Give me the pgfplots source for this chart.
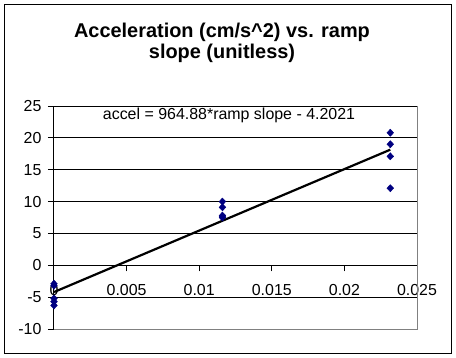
\documentclass[border=0pt]{standalone}
\usepackage{pgfplots}
\pgfplotsset{compat=1.18}
\usepackage{fontspec}
\setmainfont{Liberation Sans}
\definecolor{navy}{RGB}{0,0,128}
\definecolor{bordergray}{RGB}{128,128,128}
\begin{document}
\begin{tikzpicture}
\path[use as bounding box] (-54bp,-29bp) rectangle (402bp,329bp);
\draw[black, line width=1bp] (-49bp,-24bp) rectangle (397bp,324bp);
\begin{axis}[
  at={(0,0)}, anchor=south west,
  width=363bp, height=223bp, scale only axis,
  xmin=0, xmax=0.025, ymin=-10, ymax=25,
  axis x line=middle, axis y line=left,
  axis line style={-, black, line width=1bp},
  scaled x ticks=false, scaled y ticks=false,
  xtick={0,0.005,0.01,0.015,0.02,0.025},
  xticklabels={0,0.005,0.01,0.015,0.02,0.025},
  ytick={-10,-5,0,5,10,15,20,25},
  yticklabels={-10,-5,0,5,10,15,20,25},
  hide obscured x ticks=false, hide obscured y ticks=false,
  tick align=outside, major tick length=6bp,
  tick style={black, line width=1bp},
  ymajorgrids, grid style={black, line width=1bp},
  ticklabel style={font=\fontsize{16}{18}\selectfont},
  xticklabel style={yshift=-10bp},
  yticklabel style={xshift=-3bp},
  /pgf/number format/assume math mode=true,
  clip=false,
]
\draw[bordergray, line width=1bp] (axis cs:0,-10) -- (axis cs:0.025,-10) -- (axis cs:0.025,25);
\addplot[only marks, mark=diamond*, mark size=3.6bp, mark options={xscale=1.25}, navy] coordinates {
  (0,-2.9) (0,-3.2) (0,-5.2) (0,-5.7) (0,-6.3)
  (0.0116,10.0) (0.0116,9.1) (0.0116,7.8) (0.0116,7.5) (0.0116,7.6)
  (0.02316,20.8) (0.02316,19.0) (0.02316,17.1) (0.02316,12.1)
};
\addplot[black, line width=2.2bp] coordinates {(0,-4.2021) (0.02316,18.144)};
\end{axis}
\node[font=\fontsize{20}{21}\selectfont\bfseries, align=center] at (168bp,286.5bp)
  {Acceleration (cm/s\^{}2) vs. ramp\\slope (unitless)};
\node[font=\fontsize{16}{18}\selectfont] at (175bp,214bp) {accel = 964.88*ramp slope - 4.2021};
\end{tikzpicture}
\end{document}
